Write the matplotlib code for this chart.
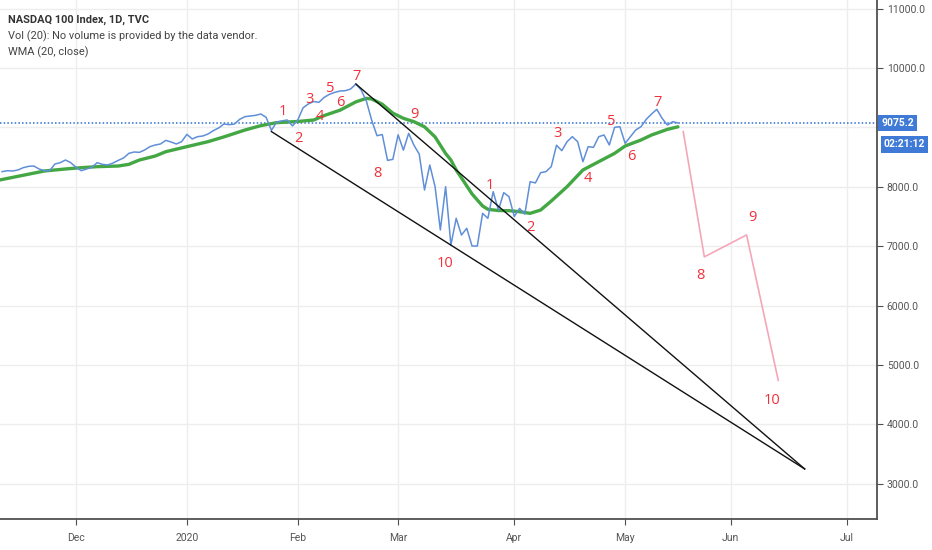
import numpy as np
import matplotlib.pyplot as plt
import matplotlib.transforms as mtransforms

# bar index 0 = first trading day of Dec 2019
first_bar = -14
close = [8255, 8271, 8266, 8283, 8322, 8344, 8350, 8300, 8271, 8271,
         8384, 8406, 8451, 8406, 8328, 8271, 8300, 8328, 8406, 8378,
         8367, 8400, 8445, 8485, 8563, 8586, 8580, 8620, 8676, 8704,
         8721, 8782, 8754, 8721, 8760, 8883, 8805, 8844, 8855, 8889,
         8945, 8990, 9057, 9046, 9057, 9136, 9181, 9192, 9203, 9226,
         9170, 8950, 9090, 9110, 9125, 9025, 9125, 9330, 9395, 9436,
         9422, 9506, 9557, 9590, 9613, 9618, 9646, 9731, 9630, 9440,
         9120, 8860, 8880, 8445, 8462, 8875, 8617, 8900, 8700, 8550,
         7946, 8367, 8002, 7273, 8002, 7020, 7469, 7188, 7301, 7003,
         7003, 7553, 7469, 7918, 7609, 7901, 7834, 7500, 7637, 7540,
         8086, 8065, 8238, 8255, 8339, 8700, 8608, 8760, 8844, 8760,
         8423, 8676, 8664, 8844, 8872, 8704, 9001, 9012, 8732, 8844,
         8956, 9012, 9136, 9226, 9304, 9153, 9040, 9096, 9075.2]

wma_bar = [-15, -6, -2, 1, 4, 8, 10, 12, 15, 17, 21, 25, 28, 32, 35, 38,
           42, 45, 47, 50, 53, 55, 56, 58, 60, 62, 64, 66, 68, 70, 71, 72,
           73, 75, 76, 77, 78, 80, 82, 84, 86, 88, 90, 93, 96, 99, 102,
           104, 107, 109, 112, 114]
wma_val = [8105, 8266, 8300, 8322, 8339, 8350, 8378, 8451, 8518, 8591,
           8676, 8760, 8840, 8956, 9030, 9080, 9100, 9124, 9200, 9290,
           9430, 9489, 9478, 9390, 9240, 9153, 9096, 9010, 8840, 8560,
           8451, 8283, 8150, 7880, 7778, 7677, 7621, 7600, 7598, 7581,
           7553, 7609, 7760, 8002, 8283, 8423, 8563, 8687, 8788, 8872,
           8967, 9010]

proj_bar = [115, 119, 127, 133]
proj_val = [8930, 6820, 7190, 4740]

upper_bar = [53, 138]
upper_val = [9731, 3250]
lower_bar = [37, 138]
lower_val = [8930, 3250]

wave_text = ['1', '2', '3', '4', '5', '6', '7', '8', '9', '10',
             '1', '2', '3', '4', '5', '6', '7', '8', '9', '10']
wave_bar = [39.1, 42.1, 44.2, 46.1, 48.1, 50.1, 53.2, 57.1, 64.0, 69.9,
            78.3, 86.1, 91.1, 97.0, 101.3, 105.1, 110.1, 118.2, 128.2, 131.9]
wave_val = [9264, 8805, 9473, 9180, 9658, 9423, 9854, 8227, 9209, 6712,
            8030, 7315, 8901, 8143, 9096, 8507, 9416, 6503, 7487, 4394]

month_bar = [0, 21, 42, 61, 83, 104, 124, 146]
month_lbl = ['Dec', '2020', 'Feb', 'Mar', 'Apr', 'May', 'Jun', 'Jul']
price_ticks = np.arange(3000, 11001, 1000)
last_price = 9075.2
countdown = '02:21:12'

ui = ['Roboto', 'DejaVu Sans']
red = '#f0303a'

fig = plt.figure(figsize=(9.32, 5.5), dpi=100)
ax = fig.add_axes([0, 31 / 550, 877 / 932, 519 / 550])
ax.set_xlim(-14.4, 151.7)
ax.set_ylim(2407, 11145)

ax.set_xticks(month_bar)
ax.set_xticklabels(month_lbl)
ax.set_yticks(price_ticks)
# the 9000 label sits under the last-price box, so it is not shown
ax.set_yticklabels(['' if abs(v - last_price) < 300 else f'{v:.1f}'
                    for v in price_ticks])
ax.grid(True, color='#ededed', lw=1)
ax.set_axisbelow(True)
for s in ['top', 'left']:
    ax.spines[s].set_visible(False)
for s in ['right', 'bottom']:
    ax.spines[s].set_color('#505050')
    ax.spines[s].set_linewidth(1.3)
ax.yaxis.tick_right()
ax.tick_params(axis='both', length=4, color='#505050', labelcolor='#555555',
               labelsize=7.5)
ax.tick_params(axis='y', pad=3)
ax.tick_params(axis='x', pad=6)
for lab in ax.get_xticklabels() + ax.get_yticklabels():
    lab.set_family(ui)

bars = np.arange(first_bar, first_bar + len(close))
ax.axhline(last_price, color='#2f6fd0', lw=1.1, ls=(0, (1, 1.4)))
ax.plot(wma_bar, wma_val, color='#43a743', lw=2.4, solid_capstyle='round')
ax.plot(bars, close, color='#5f8fd8', lw=1.1)
ax.plot(upper_bar, upper_val, color='#111111', lw=1)
ax.plot(lower_bar, lower_val, color='#111111', lw=1)
ax.plot(proj_bar, proj_val, color='#f4a7b9', lw=1.2)

for t, b, v in zip(wave_text, wave_bar, wave_val):
    ax.text(b, v, t, color=red, fontsize=10.5, ha='center', va='center',
            family=['Open Sans', 'DejaVu Sans'])

# price label boxes on the right scale
trans = mtransforms.blended_transform_factory(ax.transAxes, ax.transData)
ax.annotate(f'{last_price:.1f}', xy=(1.0, last_price), xycoords=trans,
            xytext=(3, 0), textcoords='offset points', ha='left', va='center',
            color='white', fontsize=7.5, fontweight='bold', family=ui,
            bbox=dict(boxstyle='square,pad=0.3', fc='#3f7bd6', ec='none'),
            annotation_clip=False)
ax.annotate(countdown, xy=(1.0, last_price), xycoords=trans,
            xytext=(5, -15.5), textcoords='offset points', ha='left', va='center',
            color='white', fontsize=7.5, fontweight='bold', family=ui,
            bbox=dict(boxstyle='square,pad=0.3', fc='#3f7bd6', ec='none'),
            annotation_clip=False)

fig.text(8 / 932, 1 - 20 / 550, 'NASDAQ 100 Index, 1D, TVC', fontsize=7.9,
         fontweight='bold', color='#333333', va='center', family=ui)
fig.text(8 / 932, 1 - 36 / 550, 'Vol (20): No volume is provided by the data vendor.',
         fontsize=7.9, color='#444444', va='center', family=ui)
fig.text(8 / 932, 1 - 52 / 550, 'WMA (20, close)', fontsize=7.9,
         color='#444444', va='center', family=ui)

fig.savefig('out.png', dpi=100)
